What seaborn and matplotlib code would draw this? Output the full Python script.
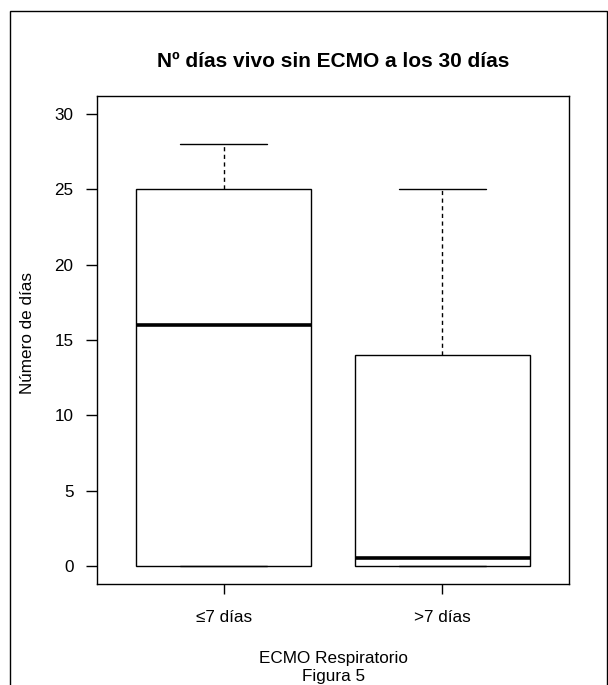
import pandas as pd
import seaborn as sns
import matplotlib.pyplot as plt
from matplotlib.patches import Rectangle

# five-number summaries (min, Q1, median, Q3, max)
grupos = ['≤7 días', '>7 días']
dias_corto = [0, 0, 16, 25, 28]
dias_largo = [0, 0, 0.5, 14, 25]

df = pd.DataFrame({
    'grupo': [grupos[0]] * len(dias_corto) + [grupos[1]] * len(dias_largo),
    'dias': dias_corto + dias_largo,
})

sns.set_style('white')
plt.rcParams['font.family'] = ['Liberation Sans', 'DejaVu Sans']
plt.rcParams['text.color'] = 'black'
plt.rcParams['axes.labelcolor'] = 'black'

fig = plt.figure(figsize=(6.08, 6.85), dpi=100)
ax = fig.add_axes([97 / 608, 1 - 584 / 685, 472 / 608, 488 / 685])

sns.boxplot(data=df, x='grupo', y='dias', order=grupos, ax=ax,
            width=0.8, color='white', linecolor='black', linewidth=1,
            whis=float('inf'), showfliers=False,
            whiskerprops=dict(linestyle=(0, (3, 2.5))),
            medianprops=dict(linewidth=2.6, color='black'))

ax.set_xlim(0.42 - 1, 2.58 - 1)
ax.set_ylim(-1.2, 31.2)
ax.set_yticks([0, 5, 10, 15, 20, 25, 30])

for s in ax.spines.values():
    s.set_visible(True)
    s.set_color('black')
    s.set_linewidth(1)

ax.tick_params(axis='y', length=8, width=1, pad=9, labelsize=12.3, colors='black', left=True)
ax.tick_params(axis='x', length=7.5, width=1, pad=11, labelsize=12.3, colors='black', bottom=True)

ax.set_title('Nº días vivo sin ECMO a los 30 días', fontsize=15, fontweight='bold',
             pad=21, color='black')
ax.set_ylabel('Número de días', fontsize=12.3)
ax.yaxis.set_label_coords(-0.132, 0.515)
ax.set_xlabel('ECMO Respiratorio\nFigura 5', fontsize=12.3, linespacing=1.25)
ax.xaxis.set_label_coords(0.5, -0.138)

# outer frame around the figure
fig.patches.append(Rectangle((9.5 / 608, -0.1), 597 / 608, 1.1 - 11.5 / 685,
                             transform=fig.transFigure, fill=False,
                             edgecolor='black', linewidth=1))

fig.savefig('out.png', dpi=100)
